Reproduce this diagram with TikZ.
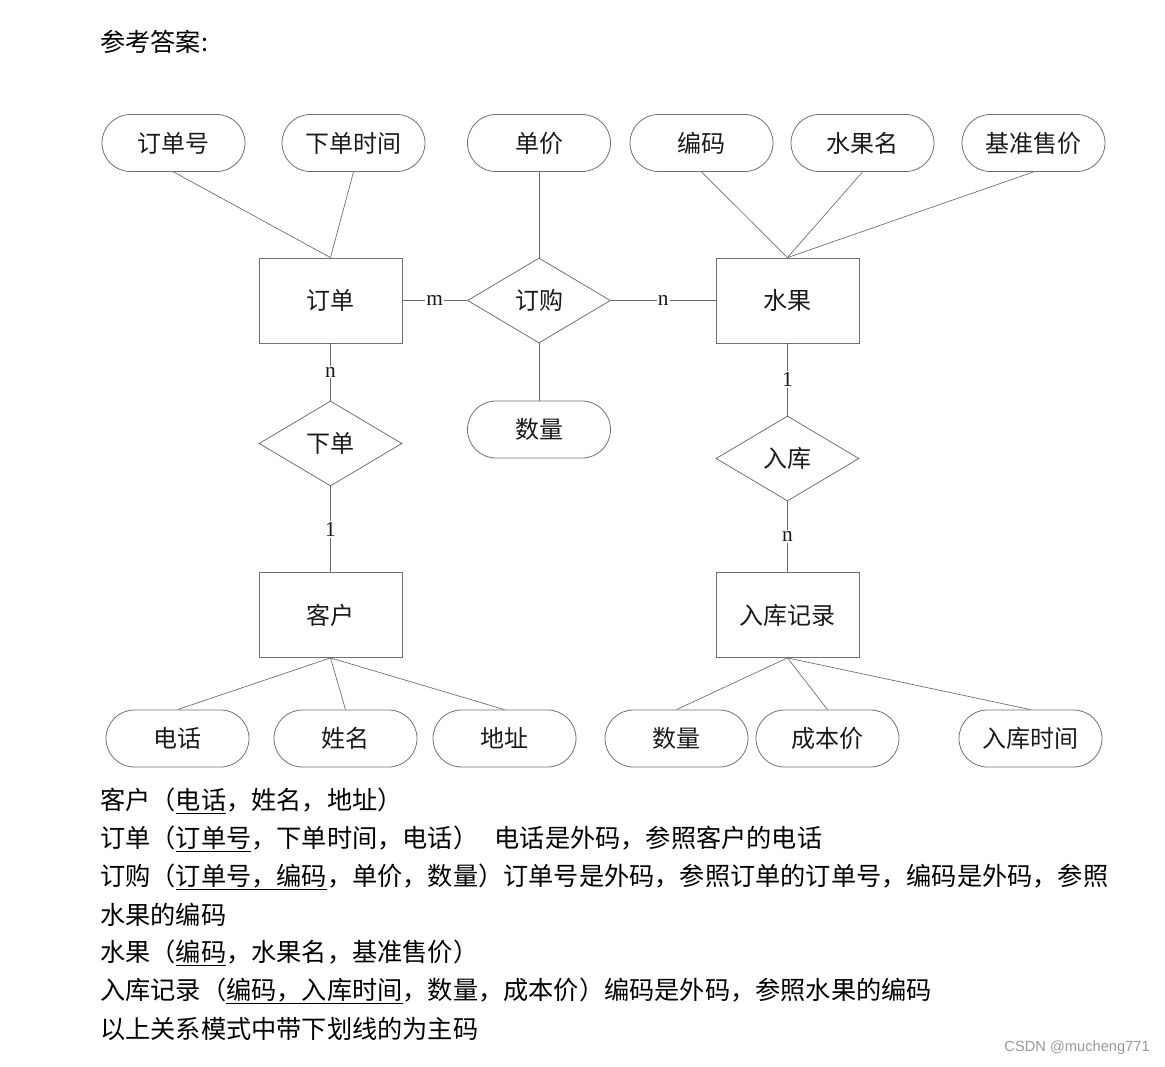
\documentclass[tikz,border=0pt]{standalone}
\usepackage{fontspec}
\setmainfont{Noto Sans CJK SC}
\newfontfamily\labfont{Liberation Serif}
\newfontfamily\wmfont{Liberation Sans}
\usetikzlibrary{shapes.geometric}
\definecolor{bd}{HTML}{707070}
\definecolor{ln}{HTML}{6A6A6A}
\definecolor{tx}{HTML}{1A1A1A}
\begin{document}
\begin{tikzpicture}[x=0.75pt,y=-0.75pt,
  ent/.style={draw=bd, line width=0.6pt, minimum width=107.25pt, minimum height=63.75pt, inner sep=0pt, text=tx, font=\fontsize{18}{21}\selectfont},
  rel/.style={diamond, draw=bd, line width=0.6pt, minimum width=107.25pt, minimum height=63.75pt, inner sep=0pt, text=tx, font=\fontsize{18}{21}\selectfont},
  attr/.style={draw=bd, line width=0.6pt, rounded corners=21.3pt, minimum width=107.25pt, minimum height=42.75pt, inner sep=0pt, text=tx, font=\fontsize{18}{21}\selectfont},
  conn/.style={draw=ln, line width=0.5pt},
  card/.style={fill=white, inner sep=1pt, text=tx, font=\labfont\fontsize{16}{18}\selectfont},
  body/.style={anchor=west, inner sep=0pt, text=black, font=\fontsize{18.9}{22}\selectfont}
]
\useasboundingbox (0,0) rectangle (1165,1067);

% title
\node[body] (title) at (100,42) {参考答案:};

% entities
\node[ent] (dd) at (330.5,300.5) {订单};
\node[ent] (sg) at (787.5,300.5) {水果};
\node[ent] (kh) at (330.5,615) {客户};
\node[ent] (rkjl) at (787.5,615) {入库记录};

% relationships
\node[rel] (dg) at (539,300.5) {订购};
\node[rel] (xd) at (330.5,443.5) {下单};
\node[rel] (rk) at (787.5,458.5) {入库};

% attributes
\node[attr] (ddh) at (173.5,143) {订单号};
\node[attr] (xdsj) at (353.5,143) {下单时间};
\node[attr] (dj) at (539,143) {单价};
\node[attr] (bm) at (701.5,143) {编码};
\node[attr] (sgm) at (862.5,143) {水果名};
\node[attr] (jzsj) at (1033.5,143) {基准售价};
\node[attr] (sl1) at (539,429.5) {数量};
\node[attr] (dh) at (177.5,738.5) {电话};
\node[attr] (xm) at (345.5,738.5) {姓名};
\node[attr] (dz) at (504.5,738.5) {地址};
\node[attr] (sl2) at (676.5,738.5) {数量};
\node[attr] (cbj) at (827.5,738.5) {成本价};
\node[attr] (rksj) at (1030.5,738.5) {入库时间};

% connectors
\draw[conn] (ddh.south) -- (dd.north);
\draw[conn] (xdsj.south) -- (dd.north);
\draw[conn] (dj.south) -- (dg.north);
\draw[conn] (dg.south) -- (sl1.north);
\draw[conn] (bm.south) -- (sg.north);
\draw[conn] (sgm.south) -- (sg.north);
\draw[conn] (jzsj.south) -- (sg.north);
\draw[conn] (dd.east) -- node[card, midway] (cm) {m} (dg.west);
\draw[conn] (dg.east) -- node[card, midway] (cn) {n} (sg.west);
\draw[conn] (dd.south) -- node[card, midway] (cn2) {n} (xd.north);
\draw[conn] (xd.south) -- node[card, midway] (c1) {1} (kh.north);
\draw[conn] (sg.south) -- node[card, midway] (c12) {1} (rk.north);
\draw[conn] (rk.south) -- node[card, midway] (cn3) {n} (rkjl.north);
\draw[conn] (kh.south) -- (dh.north);
\draw[conn] (kh.south) -- (xm.north);
\draw[conn] (kh.south) -- (dz.north);
\draw[conn] (rkjl.south) -- (sl2.north);
\draw[conn] (rkjl.south) -- (cbj.north);
\draw[conn] (rkjl.south) -- (rksj.north);

% relational schema text
\node[body] (t1) at (100,801) {客户（\underline{电话}，姓名，地址）};
\node[body] (t2) at (100,839) {订单（\underline{订单号}，下单时间，电话）\hspace{0.65em}电话是外码，参照客户的电话};
\node[body] (t3) at (100,877) {订购（\underline{订单号，编码}，单价，数量）订单号是外码，参照订单的订单号，编码是外码，参照};
\node[body] (t4) at (100,915) {水果的编码};
\node[body] (t5) at (100,953) {水果（\underline{编码}，水果名，基准售价）};
\node[body] (t6) at (100,991) {入库记录（\underline{编码，入库时间}，数量，成本价）编码是外码，参照水果的编码};
\node[body] (t7) at (100,1029) {以上关系模式中带下划线的为主码};

% watermark
\node[anchor=east, inner sep=0pt, text=black!40, font=\wmfont\fontsize{11}{13}\selectfont] (wm) at (1150,1048) {CSDN @mucheng771};
\end{tikzpicture}
\end{document}
